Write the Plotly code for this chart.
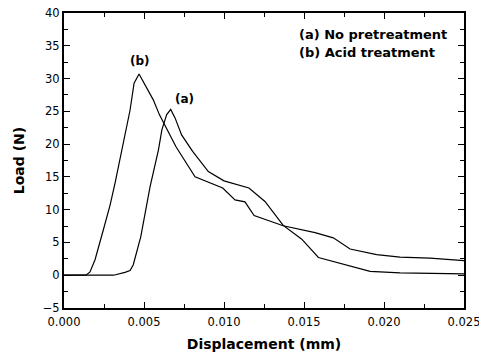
import plotly.graph_objects as go

# (a) No pretreatment
disp_a = [0.0, 0.0031, 0.00381, 0.00413, 0.00433, 0.0048, 0.00538, 0.0059, 0.00612, 0.00642, 0.00667,
          0.00694, 0.00735, 0.00804, 0.00902, 0.0100, 0.01156, 0.01256, 0.0137, 0.01486,
          0.0159, 0.01788, 0.01913, 0.021, 0.025]
load_a = [0.0, 0.0, 0.43, 0.7, 1.6, 5.9, 13.5, 19.1, 22.2, 24.5, 25.3,
          24.0, 21.4, 18.9, 15.8, 14.4, 13.3, 11.25, 7.6, 5.5,
          2.7, 1.37, 0.6, 0.36, 0.2]

# (b) Acid treatment
disp_b = [0.0, 0.001375, 0.001625, 0.00194, 0.00246, 0.00288, 0.00319, 0.00375, 0.00413, 0.00438, 0.00469,
          0.00558, 0.00596, 0.0070, 0.00819, 0.00992, 0.01069, 0.01131, 0.01188, 0.0137,
          0.01569, 0.01683, 0.01788, 0.01954, 0.021, 0.02288, 0.025]
load_b = [0.0, 0.0, 0.5, 2.36, 6.94, 10.7, 14.05, 20.65, 25.2, 29.3, 30.7,
          26.75, 24.5, 19.6, 15.0, 13.3, 11.5, 11.2, 9.1, 7.55,
          6.5, 5.7, 4.0, 3.15, 2.75, 2.6, 2.24]

legend_lines = ["(a) No pretreatment", "(b) Acid treatment"]
x_ticks = [0.0, 0.005, 0.010, 0.015, 0.020, 0.025]
x_tick_labels = ["0.000", "0.005", "0.010", "0.015", "0.020", "0.025"]
y_ticks = [-5, 0, 5, 10, 15, 20, 25, 30, 35, 40]

FONT = "DejaVu Sans, sans-serif"

fig = go.Figure()
fig.add_trace(go.Scatter(x=disp_a, y=load_a, mode="lines",
                         line=dict(color="black", width=1.2), showlegend=False))
fig.add_trace(go.Scatter(x=disp_b, y=load_b, mode="lines",
                         line=dict(color="black", width=1.2), showlegend=False))

fig.add_annotation(x=0.00475, y=32.7, text="<b>(b)</b>", showarrow=False,
                   font=dict(size=12, color="black", family=FONT))
fig.add_annotation(x=0.00756, y=26.9, text="<b>(a)</b>", showarrow=False,
                   font=dict(size=12, color="black", family=FONT))
fig.add_annotation(x=0.01456, y=36.7, text="<b>" + legend_lines[0] + "</b>", showarrow=False,
                   xanchor="left", font=dict(size=13, color="black", family=FONT))
fig.add_annotation(x=0.01456, y=33.9, text="<b>" + legend_lines[1] + "</b>", showarrow=False,
                   xanchor="left", font=dict(size=13, color="black", family=FONT))

axis_common = dict(showgrid=False, zeroline=False, showline=True, linecolor="black",
                   linewidth=2, ticks="inside", ticklen=6, tickwidth=1.2, tickcolor="black",
                   mirror="allticks", ticklabeloverflow="allow", automargin=False,
                   tickfont=dict(size=11.5, color="black", family=FONT))

fig.update_xaxes(range=[0, 0.025], tickvals=x_ticks, ticktext=x_tick_labels,
                 title=dict(text="<b>Displacement (mm)</b>", font=dict(size=14, color="black", family=FONT)),
                 ticklabelstandoff=2,
                 minor=dict(ticks="inside", dtick=0.0025, ticklen=4, tickcolor="black", tickwidth=1),
                 **axis_common)
fig.update_yaxes(range=[-5, 40], tickvals=y_ticks,
                 title=dict(text="<b>Load (N)</b>", font=dict(size=14, color="black", family=FONT)),
                 minor=dict(ticks="inside", dtick=2.5, ticklen=4, tickcolor="black", tickwidth=1),
                 **axis_common)

fig.update_layout(width=479, height=352, margin=dict(l=64, r=15, t=13, b=44),
                  plot_bgcolor="white", paper_bgcolor="white",
                  font=dict(family=FONT, color="black"))

fig.write_html("out.html", config={"displayModeBar": False},
               post_script="document.body.style.margin='0';")
